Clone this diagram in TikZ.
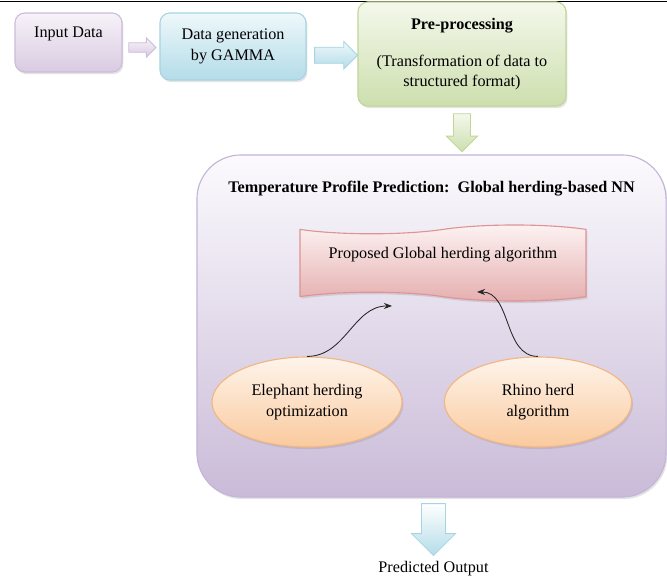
\documentclass[tikz,border=0pt]{standalone}
\usepackage{fontspec}
\setmainfont{Liberation Serif}
\usepackage{tikz}
\usetikzlibrary{arrows.meta, positioning, shapes, shapes.geometric, shapes.symbols, shapes.arrows, calc, shadows}

\definecolor{lavTop}{HTML}{F7F3F9}
\definecolor{lavBot}{HTML}{D9CAE1}
\definecolor{lavLine}{HTML}{CDBCDA}
\definecolor{bluTop}{HTML}{EEF8FB}
\definecolor{bluBot}{HTML}{B3DCE8}
\definecolor{bluLine}{HTML}{A8D4E2}
\definecolor{grnTop}{HTML}{F4F8EC}
\definecolor{grnBot}{HTML}{CDDFAE}
\definecolor{grnLine}{HTML}{C2D69A}
\definecolor{bigTop}{HTML}{FBFAFD}
\definecolor{bigBot}{HTML}{CABBD8}
\definecolor{bigLine}{HTML}{C4B4D9}
\definecolor{pnkTop}{HTML}{FDF3F3}
\definecolor{pnkBot}{HTML}{E5AEAE}
\definecolor{pnkLine}{HTML}{DE9494}
\definecolor{orgTop}{HTML}{FEF4EB}
\definecolor{orgBot}{HTML}{FACA9E}
\definecolor{orgLine}{HTML}{F2B684}

\begin{document}
\begin{tikzpicture}[>=Stealth, x=0.025cm, y=-0.025cm,
    every node/.style={font=\fontsize{11.5}{14.5}\selectfont},
    box/.style={rectangle, rounded corners=7pt, draw, line width=0.8pt, align=center, inner sep=2pt,
        drop shadow={opacity=0.22, shadow xshift=1pt, shadow yshift=-1.5pt}},
    blockarr/.style={single arrow, draw, line width=0.6pt},
    oval/.style={ellipse, draw, line width=0.8pt, align=center, inner sep=1pt, top color=orgTop, bottom color=orgBot, draw=orgLine,
        drop shadow={opacity=0.22, shadow xshift=1pt, shadow yshift=-1.5pt}},
    link/.style={->, line width=0.6pt, black!85}]
    \useasboundingbox (0,0) rectangle (667,580);
    % 顶部细线
    \draw[line width=0.6pt] (0,1) -- (667,1);
    % 上排三个框
    \node[box, top color=lavTop, bottom color=lavBot, draw=lavLine, minimum width=2.675cm, minimum height=1.475cm] (input) at (68.5,42.5) {Input Data\\~};
    \node[box, top color=bluTop, bottom color=bluBot, draw=bluLine, minimum width=3.65cm, minimum height=1.675cm] (gen) at (233,46.5) {Data generation\\by GAMMA};
    \node[box, top color=grnTop, bottom color=grnBot, draw=grnLine, minimum width=5.2cm, minimum height=2.6cm] (pre) at (462,54) {\textbf{Pre-processing}\\[0.42cm](Transformation of data to\\structured format)};
    % 块状箭头
    \node[blockarr, top color=lavTop, bottom color=lavBot, draw=lavLine, inner sep=0.11cm, minimum height=0.68cm, minimum width=0.48cm, single arrow head extend=0.12cm] (a1) at ($(input.east)!0.5!(gen.west)+(-1,3)$) {};
    \node[blockarr, top color=bluTop, bottom color=bluBot, draw=bluLine, inner sep=0.19cm, minimum height=1.07cm, minimum width=0.65cm, single arrow head extend=0.14cm] (a2) at ($(gen.east)!0.5!(pre.west)+(0,5)$) {};
    % 大框
    \node[box, rounded corners=1.1cm, top color=bigTop, bottom color=bigBot, draw=bigLine, minimum width=11.725cm, minimum height=8.55cm] (big) at (431.5,326) {};
    \node[blockarr, shape border rotate=270, top color=grnTop, bottom color=grnBot, draw=grnLine, inner sep=0.2cm, minimum height=0.95cm, minimum width=0.75cm, single arrow head extend=0.18cm] (a3) at ($(pre.south)!0.5!(pre.south |- big.north)+(0,-2)$) {};
    \node[font=\fontsize{11.5}{14.5}\selectfont\bfseries, below=0.55cm of big.north] (title) {Temperature Profile Prediction:\ \ Global herding-based NN};
    % 算法框(波浪形)
    \node[tape, tape bend top=in and out, tape bend bottom=out and in, tape bend height=0.22cm, draw=pnkLine, line width=0.8pt, top color=pnkTop, bottom color=pnkBot, minimum width=7.15cm, minimum height=1.9cm, align=center,
        drop shadow={opacity=0.22, shadow xshift=1pt, shadow yshift=-1.5pt}] (doc) at (443,263) {Proposed Global herding algorithm\\~};
    % 两个椭圆
    \node[oval, minimum width=4.75cm, minimum height=2.25cm] (ell1) at (307,402) {Elephant herding\\optimization};
    \node[oval, minimum width=4.68cm, minimum height=2.25cm] (ell2) at (538,402) {Rhino herd\\algorithm};
    % 曲线箭头
    \coordinate (in1) at ($(doc.south)+(-51,9)$);
    \coordinate (in2) at ($(doc.south)+(34,-5)$);
    \draw[link] (ell1.north) to[out=0, in=180] (in1);
    \draw[link] (ell2.north) to[out=180, in=0] (in2);
    % 输出
    \node[blockarr, shape border rotate=270, top color=white, bottom color=bluBot, draw=bluLine, inner sep=0.29cm, minimum height=1.3cm, minimum width=1.075cm, single arrow head extend=0.25cm] (a4) at ($(big.south)+(2,26)$) {};
    \node[below=0pt of a4] (out) {Predicted Output};
\end{tikzpicture}
\end{document}
